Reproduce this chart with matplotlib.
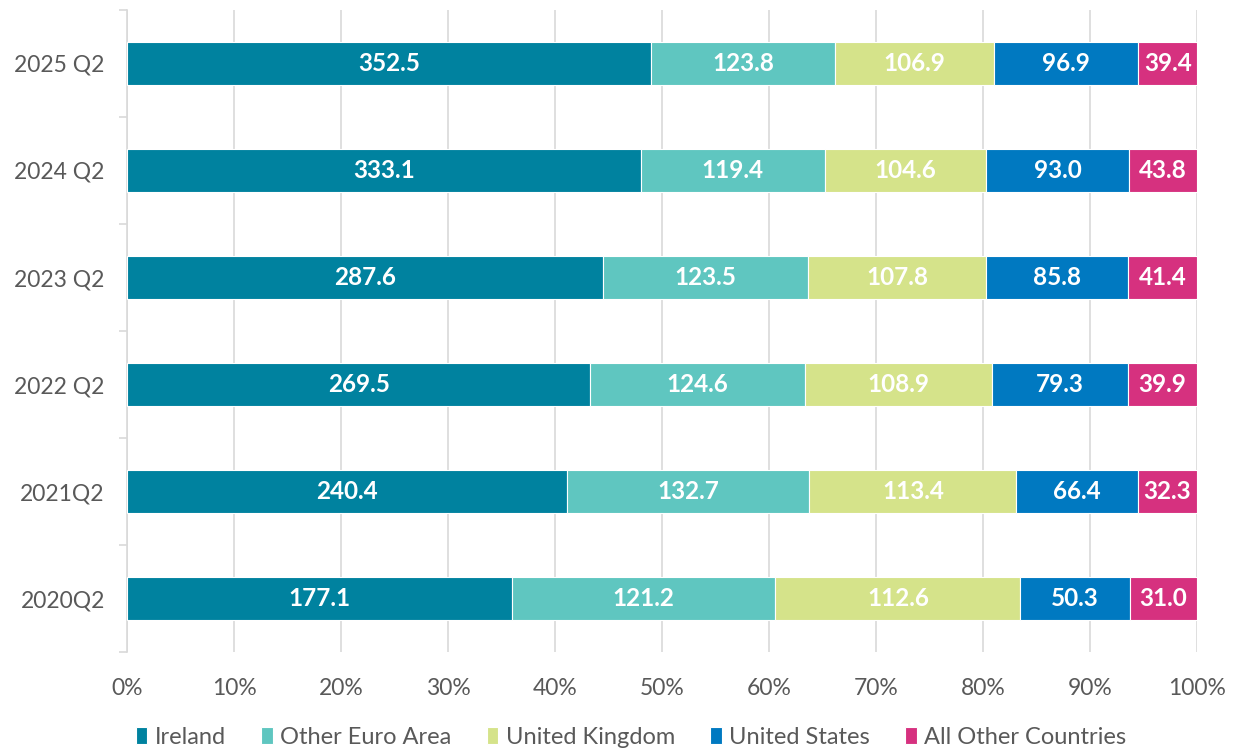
import numpy as np
import matplotlib.pyplot as plt
from matplotlib.ticker import FixedLocator, PercentFormatter

plt.rcParams['font.family'] = ['Lato', 'DejaVu Sans']

# categories, bottom to top
periods = ['2020Q2', '2021Q2', '2022 Q2', '2023 Q2', '2024 Q2', '2025 Q2']
ireland = [177.1, 240.4, 269.5, 287.6, 333.1, 352.5]
other_euro = [121.2, 132.7, 124.6, 123.5, 119.4, 123.8]
uk = [112.6, 113.4, 108.9, 107.8, 104.6, 106.9]
us = [50.3, 66.4, 79.3, 85.8, 93.0, 96.9]
rest = [31.0, 32.3, 39.9, 41.4, 43.8, 39.4]

series = [ireland, other_euro, uk, us, rest]
names = ['Ireland', 'Other Euro Area', 'United Kingdom', 'United States', 'All Other Countries']
colors = ['#00829F', '#5FC6C0', '#D5E38A', '#0079C1', '#D6317F']

vals = np.array(series)
totals = vals.sum(axis=0)
shares = vals / totals * 100

fig = plt.figure(figsize=(12.36, 7.51), dpi=100)
ax = fig.add_axes([0.1028, 0.1318, 0.8656, 0.8549])

y = np.arange(len(periods))
left = np.zeros(len(periods))
for i in range(len(series)):
    ax.barh(y, shares[i], left=left, height=0.4, color=colors[i],
            edgecolor='white', linewidth=0.8, label=names[i], zorder=3)
    for j in range(len(periods)):
        ax.text(left[j] + shares[i][j] / 2, y[j], f'{vals[i][j]:.1f}',
                ha='center', va='center', color='white', fontsize=17.5,
                fontweight='bold', zorder=4)
    left += shares[i]

ax.set_xlim(0, 100)
ax.set_ylim(-0.5, len(periods) - 0.5)
ax.set_xticks(np.arange(0, 101, 10))
ax.xaxis.set_major_formatter(PercentFormatter(decimals=0))
ax.set_yticks(y)
ax.set_yticklabels(periods)
ax.yaxis.set_minor_locator(FixedLocator(np.arange(-0.5, len(periods), 1)))

ax.grid(axis='x', color='#D9D9D9', linewidth=1.2, zorder=0)
for s in ['top', 'right', 'bottom']:
    ax.spines[s].set_visible(False)
ax.spines['left'].set_color('#D9D9D9')
ax.spines['left'].set_linewidth(1.2)

ax.tick_params(axis='x', length=0, labelsize=16.5, labelcolor='#595959', pad=19)
ax.tick_params(axis='y', which='major', length=0, labelsize=16.5, labelcolor='#595959', pad=16)
ax.tick_params(axis='y', which='minor', length=6, color='#D9D9D9', width=1.2)

fig.legend(loc='center', bbox_to_anchor=(0.5105, 0.018), ncol=5, frameon=False,
           fontsize=17, labelcolor='#595959', handlelength=0.5, handleheight=0.7,
           handletextpad=0.3, columnspacing=1.5, borderpad=0)

fig.savefig('out.png', dpi=100)
